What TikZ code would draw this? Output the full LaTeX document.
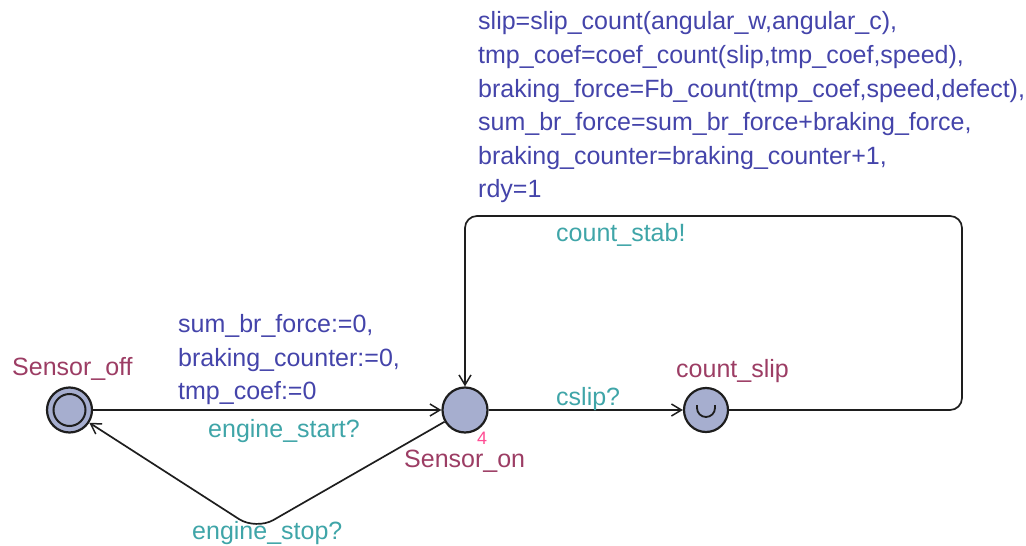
\documentclass[tikz,border=0pt]{standalone}
\usepackage{fontspec}
\setmainfont{Liberation Sans}
\usetikzlibrary{arrows.meta}

\definecolor{locfill}{HTML}{A6AECF}
\definecolor{locname}{HTML}{9C3D64}
\definecolor{assigncol}{HTML}{4444AA}
\definecolor{synccol}{HTML}{3FA5A8}
\definecolor{invcol}{HTML}{FF4D94}
\definecolor{linecol}{HTML}{1E1E1E}

\tikzset{
  loc/.style={circle, draw=linecol, fill=locfill, line width=2.2pt,
              minimum size=45pt, inner sep=0pt},
  edge/.style={draw=linecol, line width=1.7pt,
               -{Straight Barb[length=10pt,width=12pt,line width=1.5pt]}},
  lbl/.style={anchor=base west, inner sep=0pt,
              font=\fontsize{25}{30}\selectfont},
  namelbl/.style={lbl, text=locname},
  assignlbl/.style={lbl, text=assigncol},
  synclbl/.style={lbl, text=synccol},
}

\begin{document}
\begin{tikzpicture}[x=1pt, y=-1pt]
\useasboundingbox (0,0) rectangle (1026,546);

% locations
\node[loc] (off) at (69.5,410) {};
\node[circle, draw=linecol, line width=2pt, minimum size=32pt, inner sep=0pt] (offinner) at (off.center) {};
\node[loc] (on) at (465,410) {};
\node[loc, minimum size=44pt] (slip) at (706,410) {};
% urgent mark inside count_slip
\draw[linecol, line width=1.8pt] ([shift={(-9,-5)}]slip.center) -- ++(0,3)
  arc[start angle=180, end angle=360, radius=9pt] -- ++(0,-3);

% bend points
\coordinate (br) at (962,410);
\coordinate (tr) at (962,216);
\coordinate (tl) at (465,216);
\coordinate (vs) at (256,530);

% edges
\draw[edge] (off) -- (on);
\draw[edge] (on) -- (slip);
\draw[edge, rounded corners=12pt] (slip) -- (br) -- (tr) -- (tl) -- (on);
\draw[edge, rounded corners=20pt] (on) -- (vs) -- (off);

% location names
\node[namelbl] (noff) at (12,375) {Sensor\_off};
\node[namelbl] (non) at (404,467) {Sensor\_on};
\node[namelbl] (nslip) at (676,377) {count\_slip};
\node[lbl, text=invcol, font=\fontsize{18}{20}\selectfont] (inv) at (477,444) {4};

% synchronisations
\node[synclbl] (sstart) at (208,437) {engine\_start?};
\node[synclbl] (sstop) at (192,539) {engine\_stop?};
\node[synclbl] (sslip) at (556,405) {cslip?};
\node[synclbl] (sstab) at (556,241) {count\_stab!};

% updates on the start edge
\node[assignlbl] (u1) at (178,332.5) {sum\_br\_force:=0,};
\node[assignlbl] (u2) at (178,366) {braking\_counter:=0,};
\node[assignlbl] (u3) at (178,399.5) {tmp\_coef:=0};

% updates on the loop edge
\node[assignlbl] (w1) at (478,30) {slip=slip\_count(angular\_w,angular\_c),};
\node[assignlbl] (w2) at (478,63.5) {tmp\_coef=coef\_count(slip,tmp\_coef,speed),};
\node[assignlbl] (w3) at (478,97) {braking\_force=Fb\_count(tmp\_coef,speed,defect),};
\node[assignlbl] (w4) at (478,130.5) {sum\_br\_force=sum\_br\_force+braking\_force,};
\node[assignlbl] (w5) at (478,164) {braking\_counter=braking\_counter+1,};
\node[assignlbl] (w6) at (478,197.5) {rdy=1};
\end{tikzpicture}
\end{document}
